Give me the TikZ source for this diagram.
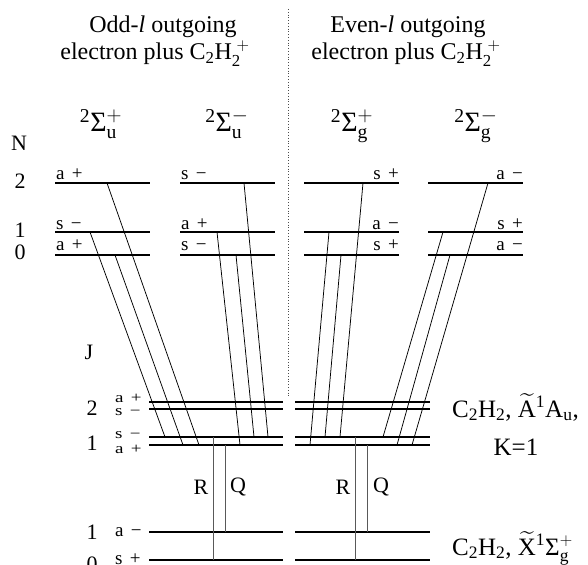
\documentclass[tikz,border=0pt]{standalone}
\usepackage{amsmath}
\usepackage{graphicx}
\usepackage{fontspec}
\setmainfont{Liberation Serif}
\newcommand{\lv}[2]{#1\hspace{0.38em}#2}
\newcommand{\sq}[1]{\scalebox{1}[0.78]{#1}}
\begin{document}
\begin{tikzpicture}[x=1pt,y=-1pt,
  lvl/.style={line width=1.7pt},
  trans/.style={line width=0.75pt},
  rq/.style={line width=0.7pt, black!65},
  sep/.style={line width=0.8pt, dotted, black!70},
  head/.style={inner sep=0pt, anchor=base, font=\fontsize{24}{26}\selectfont},
  sig/.style={inner sep=0pt, anchor=base, font=\fontsize{28}{30}\selectfont},
  qn/.style={inner sep=0pt, font=\fontsize{22}{22}\selectfont},
  lab/.style={inner sep=0pt, anchor=base west, font=\fontsize{19}{20}\selectfont},
  labr/.style={inner sep=0pt, anchor=base east, font=\fontsize{19}{20}\selectfont},
  jlab/.style={inner sep=0pt, anchor=west, font=\fontsize{19}{19}\selectfont},
  side/.style={inner sep=0pt, anchor=base west, font=\fontsize{25}{26}\selectfont},
  rqlab/.style={inner sep=0pt, font=\fontsize{22}{22}\selectfont}
]
\useasboundingbox (0,0) rectangle (588,564);

% headings
\node[head] (h1a) at (163,33) {Odd-\textit{l} outgoing};
\node[head] (h1b) at (155,60) {electron plus C$_{\text{2}}$H$_{\text{2}}^{\;+}$};
\node[head] (h2a) at (408,33) {Even-\textit{l} outgoing};
\node[head] (h2b) at (406,60) {electron plus C$_{\text{2}}$H$_{\text{2}}^{\;+}$};

% separator
\coordinate (septop) at (288,9);
\coordinate (sepbot) at (288,397);
\draw[sep] (septop) -- (sepbot);

% symmetry labels
\node[sig] (s1) at (101,132) {$^{\text{2}}\text{Σ}^{+}_{\text{u}}$};
\node[sig] (s2) at (227,132) {$^{\text{2}}\text{Σ}^{-}_{\text{u}}$};
\node[sig] (s3) at (352,132) {$^{\text{2}}\text{Σ}^{+}_{\text{g}}$};
\node[sig] (s4) at (476,132) {$^{\text{2}}\text{Σ}^{-}_{\text{g}}$};

% N labels
\node[qn] (Nl) at (19,143) {N};
\node[qn] (N2) at (20,181) {2};
\node[qn] (N1) at (20,230) {1};
\node[qn] (N0) at (20,252) {0};

% ion levels
\foreach \xa/\xb in {55/150,180/275,304/399,428/523}{
  \draw[lvl] (\xa,183) -- (\xb,183);
  \draw[lvl] (\xa,232) -- (\xb,232);
  \draw[lvl] (\xa,255) -- (\xb,255);
}
% ion level labels
\node[lab] (c1n2) at (56,179) {\lv{a}{+}};
\node[lab] (c1n1) at (56,229) {\lv{s}{−}};
\node[lab] (c1n0) at (56,250) {\lv{a}{+}};
\node[lab] (c2n2) at (181,179) {\lv{s}{−}};
\node[lab] (c2n1) at (181,229) {\lv{a}{+}};
\node[lab] (c2n0) at (181,250) {\lv{s}{−}};
\node[labr] (c3n2) at (399,179) {\lv{s}{+}};
\node[labr] (c3n1) at (399,229) {\lv{a}{−}};
\node[labr] (c3n0) at (399,250) {\lv{s}{+}};
\node[labr] (c4n2) at (523,179) {\lv{a}{−}};
\node[labr] (c4n1) at (523,229) {\lv{s}{+}};
\node[labr] (c4n0) at (523,250) {\lv{a}{−}};

% J labels
\node[qn] (Jl) at (89,352) {J};
\node[qn] (J2) at (92,408) {2};
\node[qn] (J1) at (92,443) {1};
\node[qn] (X1) at (92,532) {1};
\node[qn] (X0) at (92,564) {0};
\node[jlab] (j2a) at (115,398) {\sq{\lv{a}{+}}};
\node[jlab] (j2s) at (115,412) {\sq{\lv{s}{−}}};
\node[jlab] (j1s) at (115,435) {\sq{\lv{s}{−}}};
\node[jlab] (j1a) at (115,449) {\sq{\lv{a}{+}}};
\node[lab] (x1a) at (115,536) {\lv{a}{−}};
\node[lab] (x0s) at (115,564) {\lv{s}{+}};

% neutral levels
\foreach \xa/\xb in {149/283,295/430}{
  \draw[lvl] (\xa,402) -- (\xb,402);
  \draw[lvl] (\xa,409) -- (\xb,409);
  \draw[lvl] (\xa,437) -- (\xb,437);
  \draw[lvl] (\xa,445) -- (\xb,445);
  \draw[lvl] (\xa,532) -- (\xb,532);
  \draw[lvl] (\xa,560) -- (\xb,560);
}

% side labels
\node[side] (At) at (452,417) {C$_{\text{2}}$H$_{\text{2}}$, $\smash{\widetilde{\text{A}}}\vphantom{\text{A}}^{\text{1}}$A$_{\text{u}}$,};
\node[side, anchor=base] (Ak) at (516,455) {K=1};
\node[side] (Xt) at (452,555) {C$_{\text{2}}$H$_{\text{2}}$, $\smash{\widetilde{\text{X}}}\vphantom{\text{X}}^{\text{1}}\text{Σ}^{+}_{\text{g}}$};

% transition end points
\coordinate (u1a) at (107,183); \coordinate (u1b) at (199,445);
\coordinate (u2a) at (90,232);  \coordinate (u2b) at (165,437);
\coordinate (u3a) at (115,255); \coordinate (u3b) at (183,445);
\coordinate (v1a) at (244,183); \coordinate (v1b) at (268,437);
\coordinate (v2a) at (217,232); \coordinate (v2b) at (240,445);
\coordinate (v3a) at (236,255); \coordinate (v3b) at (254,437);
\coordinate (g1a) at (363,183); \coordinate (g1b) at (340,437);
\coordinate (g2a) at (329,232); \coordinate (g2b) at (310,445);
\coordinate (g3a) at (341,255); \coordinate (g3b) at (325,437);
\coordinate (w1a) at (488,183); \coordinate (w1b) at (412,445);
\coordinate (w2a) at (443,232); \coordinate (w2b) at (383,437);
\coordinate (w3a) at (450,255); \coordinate (w3b) at (397,445);
\foreach \p/\q in {u1a/u1b,u2a/u2b,u3a/u3b,v1a/v1b,v2a/v2b,v3a/v3b,g1a/g1b,g2a/g2b,g3a/g3b,w1a/w1b,w2a/w2b,w3a/w3b}
  \draw[trans] (\p) -- (\q);

% R and Q
\coordinate (RLt) at (213,437); \coordinate (RLb) at (213,560);
\coordinate (QLt) at (225,445); \coordinate (QLb) at (225,532);
\coordinate (RRt) at (355,437); \coordinate (RRb) at (355,560);
\coordinate (QRt) at (367,445); \coordinate (QRb) at (367,532);
\draw[rq] (RLt) -- (RLb);
\draw[rq] (QLt) -- (QLb);
\draw[rq] (RRt) -- (RRb);
\draw[rq] (QRt) -- (QRb);
\node[rqlab] (RL) at (201,487) {R};
\node[rqlab] (QL) at (238,487) {Q};
\node[rqlab] (RR) at (343,487) {R};
\node[rqlab] (QR) at (381,487) {Q};
\end{tikzpicture}
\end{document}
